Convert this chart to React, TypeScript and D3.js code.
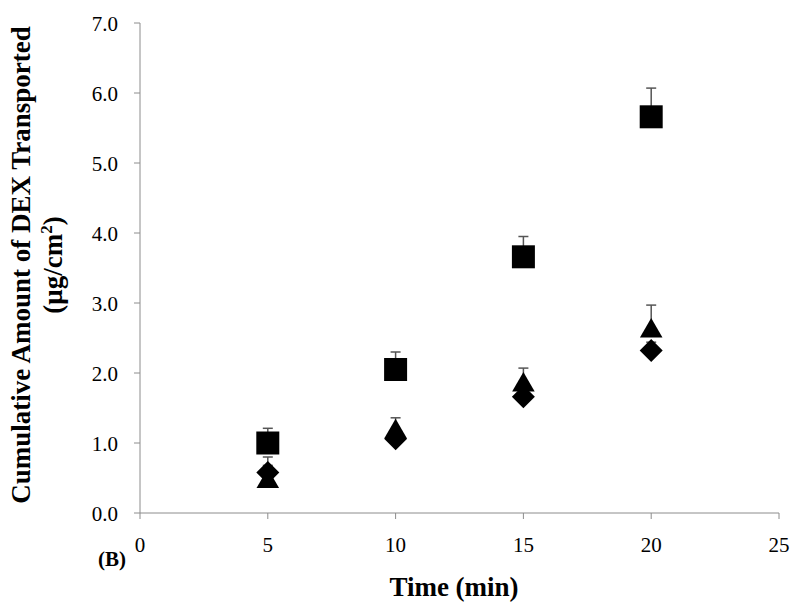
import React from "react";
import * as d3 from "d3";

const times = [5, 10, 15, 20];
const squareVals = [1.0, 2.05, 3.66, 5.66];
const squareErr = [0.21, 0.25, 0.29, 0.41];
const triangleVals = [0.45, 1.16, 1.83, 2.6];
const triangleErr = [0.35, 0.2, 0.24, 0.37];
const diamondVals = [0.58, 1.06, 1.66, 2.32];
const diamondErr = [0.1, 0.12, 0.12, 0.12];
const xTicks = [0, 5, 10, 15, 20, 25];
const yTicks = [0, 1, 2, 3, 4, 5, 6, 7];

const W = 800, H = 616;
const left = 140, right = 779, top = 23, bottom = 513;
const font = "'Liberation Serif', 'Times New Roman', serif";

export default function App() {
  const x = d3.scaleLinear().domain([0, 25]).range([left, right]);
  const y = d3.scaleLinear().domain([0, 7]).range([bottom, top]);
  const axisColor = "#8c8c8c";

  const squareSym = d3.symbol().type(d3.symbolSquare).size(23 * 23)();
  const triSym = d3.symbol().type(d3.symbolTriangle).size(220)();
  const diaSym = (() => {
    const s = 11.5;
    return `M0,${-s}L${s},0L0,${s}L${-s},0Z`;
  })();

  const series = [
    { vals: diamondVals, err: diamondErr, path: diaSym },
    { vals: triangleVals, err: triangleErr, path: triSym },
    { vals: squareVals, err: squareErr, path: squareSym },
  ];

  return (
    <svg width={W} height={H} style={{ position: "absolute", left: 0, top: 0, background: "#fff" }}>
      <rect width={W} height={H} fill="#fff" />
      <line x1={left} x2={left} y1={top} y2={bottom} stroke={axisColor} strokeWidth={1} />
      <line x1={left} x2={right} y1={bottom} y2={bottom} stroke={axisColor} strokeWidth={1} />
      {yTicks.map((t) => (
        <g key={"y" + t}>
          <line x1={left - 6} x2={left} y1={y(t)} y2={y(t)} stroke={axisColor} />
          <text x={118} y={y(t)} dy="0.4em" textAnchor="end" fontFamily={font} fontSize={21} fill="#000">
            {d3.format(".1f")(t)}
          </text>
        </g>
      ))}
      {xTicks.map((t) => (
        <g key={"x" + t}>
          <line x1={x(t)} x2={x(t)} y1={bottom} y2={bottom + 6} stroke={axisColor} />
          <text x={x(t)} y={bottom + 39} textAnchor="middle" fontFamily={font} fontSize={21} fill="#000">
            {t}
          </text>
        </g>
      ))}
      {series.map((s, si) =>
        s.vals.map((v, i) => (
          <g key={`e${si}-${i}`} stroke="#555" strokeWidth={1.5}>
            <line x1={x(times[i])} x2={x(times[i])} y1={y(v)} y2={y(v + s.err[i])} />
            <line x1={x(times[i]) - 5} x2={x(times[i]) + 5} y1={y(v + s.err[i])} y2={y(v + s.err[i])} />
          </g>
        ))
      )}
      {series.map((s, si) =>
        s.vals.map((v, i) => (
          <path key={`m${si}-${i}`} d={s.path!} transform={`translate(${x(times[i])},${y(v)})`} fill="#000" />
        ))
      )}
      <text x={454} y={596} textAnchor="middle" fontFamily={font} fontWeight="bold" fontSize={27} fill="#000">
        Time (min)
      </text>
      <text x={98} y={566} fontFamily={font} fontWeight="bold" fontSize={21} fill="#000">
        (B)
      </text>
      <g transform={`translate(30, 265) rotate(-90)`}>
        <text x={0} y={0} textAnchor="middle" fontFamily={font} fontWeight="bold" fontSize={27} fill="#000">
          Cumulative Amount of DEX Transported
        </text>
        <text x={0} y={32} textAnchor="middle" fontFamily={font} fontWeight="bold" fontSize={27} fill="#000">
          (μg/cm<tspan dy={-10} fontSize={17}>2</tspan><tspan dy={10}>)</tspan>
        </text>
      </g>
    </svg>
  );
}
